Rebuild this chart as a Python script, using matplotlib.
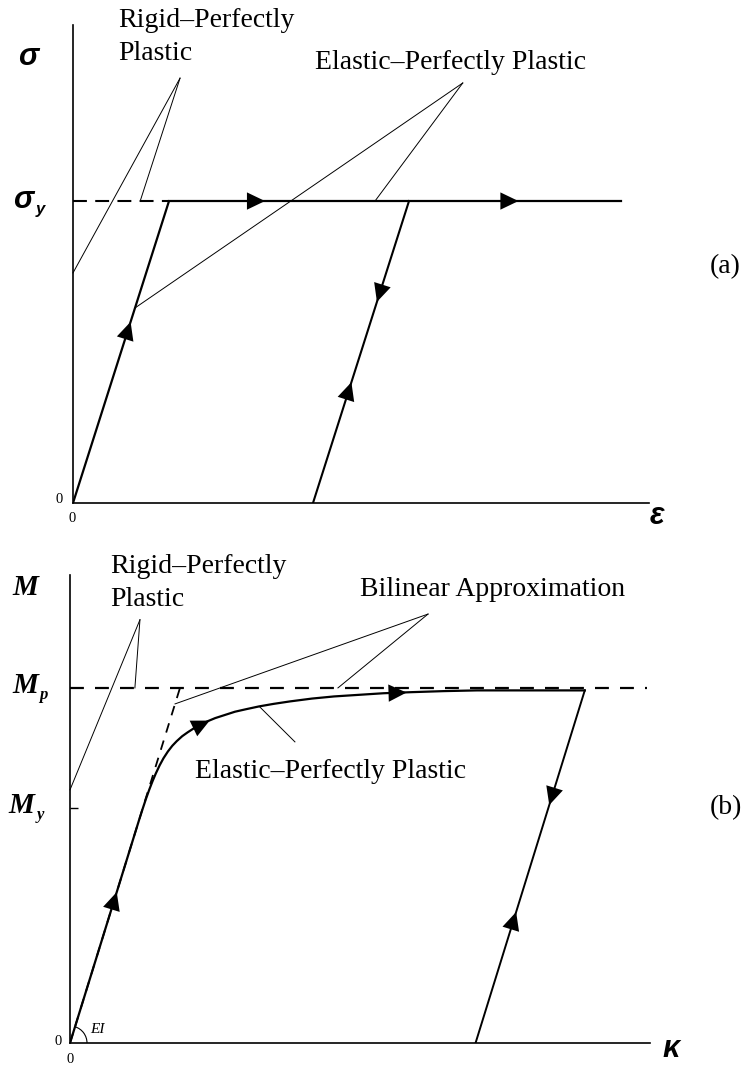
import numpy as np
import matplotlib
matplotlib.use("Agg")
import matplotlib.pyplot as plt
from matplotlib.patches import Arc

plt.rcParams["lines.scale_dashes"] = False

W, H = 749, 1068
SERIF = "Liberation Serif"
SANS = "Liberation Sans"

# ---- (a) stress-strain: strain in units of yield strain, stress in units of sigma_y
eps_elastic = [0.0, 1.0]
sig_elastic = [0.0, 1.0]
eps_rigid = [0.0, 1.0]
sig_rigid = [1.0, 1.0]
eps_plateau = [1.0, 5.71]
sig_plateau = [1.0, 1.0]
eps_unload = [3.5, 2.5]
sig_unload = [1.0, 0.0]

# leader lines (apex first, then the targets)
lead_a_rigid = [(1.115, 1.407), (0.0, 0.762), (0.70, 1.0)]
lead_a_elastic = [(4.06, 1.391), (0.646, 0.646), (3.146, 1.0)]

# arrow heads: tip x, tip y, direction x, direction y
arrows_a = [(0.60, 0.60, 1, 1), (2.0, 1.0, 1, 0), (4.64, 1.0, 1, 0),
            (3.166, 0.666, -1, -1), (2.90, 0.40, 1, 1)]

# ---- (b) moment-curvature: curvature in units of Mp/EI, moment in units of Mp
m_y = 0.662
kappa_curve = [0.0, 0.60, 0.63, 0.66, 0.69, 0.72, 0.75, 0.78, 0.815, 0.85, 0.89,
               0.93, 0.97, 1.02, 1.07, 1.12, 1.18, 1.25, 1.32, 1.40, 1.50, 1.60,
               1.72, 1.85, 2.00, 2.20, 2.40, 2.60, 2.85, 3.10, 3.40, 3.70, 4.00,
               4.30, 4.68]
m_curve = [0.0, 0.600, 0.630, 0.659, 0.687, 0.713, 0.737, 0.759, 0.782, 0.802, 0.821,
           0.837, 0.850, 0.864, 0.875, 0.885, 0.896, 0.906, 0.915, 0.923, 0.933, 0.940,
           0.948, 0.955, 0.962, 0.970, 0.976, 0.980, 0.985, 0.988, 0.991, 0.993, 0.993,
           0.993, 0.993]
kappa_bilin = [0.0, 1.0]
m_bilin = [0.0, 1.0]
kappa_plastic = [0.0, 5.25]
m_plastic = [1.0, 1.0]
kappa_unload = [4.68, 3.687]
m_unload = [0.993, 0.0]

lead_b_rigid = [(0.636, 1.192), (0.0, 0.713), (0.59, 1.0)]
lead_b_bilin = [(3.255, 1.208), (0.955, 0.955), (2.436, 1.0)]
lead_b_elastic = [(1.727, 0.946), (2.045, 0.848)]

arrows_b = [(0.425, 0.425, 1, 1), (1.27, 0.908, 1, 0.15), (3.06, 0.987, 1, 0.01),
            (4.357, 0.67, -1, -1), (4.056, 0.369, 1, 1)]


def px(x, y):
    return x / W, 1 - y / H


def label(x, y, s, size=20, **kw):
    kw.setdefault("family", SERIF)
    fig.text(*px(x, y), s, fontsize=size, va="baseline", **kw)


def make_axes(left, top, right, bottom, xmax, ymax):
    ax = fig.add_axes([left / W, 1 - bottom / H, (right - left) / W, (bottom - top) / H])
    ax.set_xlim(0, xmax)
    ax.set_ylim(0, ymax)
    for s in ("top", "right"):
        ax.spines[s].set_visible(False)
    for s in ("left", "bottom"):
        ax.spines[s].set_linewidth(1.2)
    ax.set_xticks([])
    ax.set_yticks([])
    ax.patch.set_visible(False)
    return ax


def leader(ax, pts, lw=0.7):
    apex = pts[0]
    for p in pts[1:]:
        ax.plot([apex[0], p[0]], [apex[1], p[1]], color="k", lw=lw, clip_on=False)


def arrow_heads(ax, arrows):
    for x, y, dx, dy in arrows:
        p0 = ax.transData.transform((x, y))
        p1 = ax.transData.transform((x + dx * 0.01, y + dy * 0.01))
        u = (p1 - p0) / np.hypot(*(p1 - p0))
        ax.annotate("", xy=(x, y), xytext=(-30 * u[0], -30 * u[1]), textcoords="offset pixels",
                    arrowprops=dict(arrowstyle="-|>,head_length=0.5,head_width=0.24",
                                    mutation_scale=26, color="k", lw=0,
                                    shrinkA=0, shrinkB=0))


fig = plt.figure(figsize=(W / 100, H / 100), dpi=100)

# ---------------- (a)
ax1 = make_axes(73, 25, 649, 503, 6.0, 1.583)
ax1.plot(eps_rigid, sig_rigid, color="k", lw=1.5, dashes=(10, 6))
ax1.plot(eps_elastic, sig_elastic, color="k", lw=1.6, solid_capstyle="butt")
ax1.plot(eps_plateau, sig_plateau, color="k", lw=1.6)
ax1.plot(eps_unload, sig_unload, color="k", lw=1.5)
leader(ax1, lead_a_rigid)
leader(ax1, lead_a_elastic)
arrow_heads(ax1, arrows_a)

label(118, 27, "Rigid\u2013Perfectly")
label(118, 60, "Plastic")
label(315, 69, "Elastic\u2013Perfectly Plastic")
label(710, 273, "(a)")
label(18, 65, "\u03c3", size=22, family=SANS, weight="bold", style="italic")
label(13, 208, "\u03c3", size=22, family=SANS, weight="bold", style="italic")
label(36, 214, "y", size=12, family=SANS, weight="bold", style="italic")
label(650, 524, "\u03b5", size=22, family=SANS, weight="bold", style="italic")
label(63, 503, "0", size=10.5, ha="right")
label(72, 522, "0", size=10.5, ha="center")

# ---------------- (b)
ax2 = make_axes(70, 575, 650, 1043, 5.273, 1.318)
ax2.set_yticks([m_y])
ax2.tick_params(axis="y", direction="in", length=6, width=1, labelleft=False)
ax2.plot(kappa_plastic, m_plastic, color="k", lw=1.6, dashes=(10, 8))
ax2.plot(kappa_bilin, m_bilin, color="k", lw=1.3, dashes=(7, 6))
ax2.plot(kappa_curve, m_curve, color="k", lw=1.6)
ax2.plot(kappa_unload, m_unload, color="k", lw=1.4)
leader(ax2, lead_b_rigid)
leader(ax2, lead_b_bilin)
leader(ax2, lead_b_elastic)
arrow_heads(ax2, arrows_b)

# EI angle mark at the origin
sx = ax2.transData.transform((1, 0))[0] - ax2.transData.transform((0, 0))[0]
sy = ax2.transData.transform((0, 1))[1] - ax2.transData.transform((0, 0))[1]
r = 17
ax2.add_patch(Arc((0, 0), 2 * r / sx, 2 * r / sy, theta1=0,
                  theta2=np.degrees(np.arctan2(m_bilin[1], kappa_bilin[1])),
                  color="k", lw=0.8))

label(110, 573, "Rigid\u2013Perfectly")
label(110, 606, "Plastic")
label(360, 596, "Bilinear Approximation")
label(195, 778, "Elastic\u2013Perfectly Plastic")
label(710, 814, "(b)")
label(12, 595, "M", size=21, weight="bold", style="italic")
label(12, 693, "M", size=21, weight="bold", style="italic")
label(39, 699, "p", size=12, weight="bold", style="italic")
label(8, 813, "M", size=21, weight="bold", style="italic")
label(37, 819, "y", size=12, weight="bold", style="italic")
label(662, 1057, "\u03ba", size=22, family=SANS, weight="bold", style="italic")
label(90, 1033, "EI", size=11, style="italic")
label(62, 1045, "0", size=10.5, ha="right")
label(70, 1063, "0", size=10.5, ha="center")

fig.savefig("out.png", dpi=100)
